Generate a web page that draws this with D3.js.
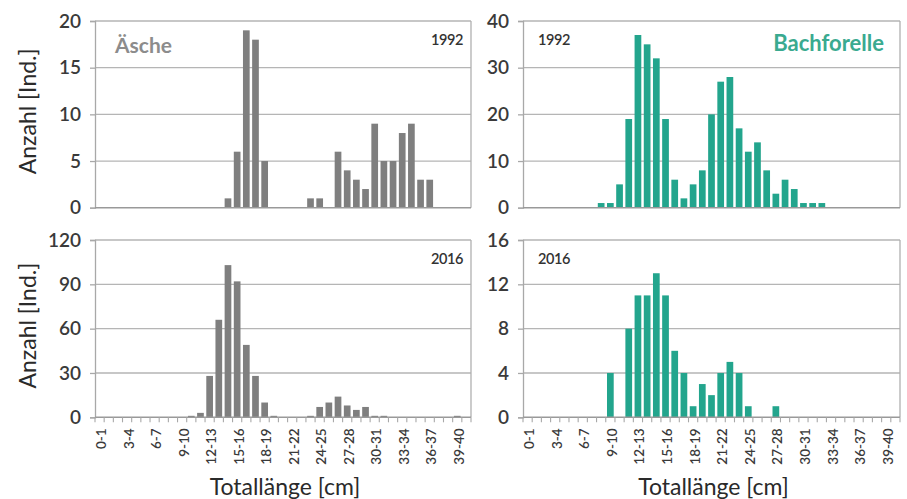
<!DOCTYPE html>
<html><head><meta charset="utf-8">
<script src="https://cdn.jsdelivr.net/npm/d3@7"></script>
<style>
body{margin:0;background:#fff}
svg{display:block}
text{font-family:Lato,"Open Sans",sans-serif}
</style>
</head><body>
<svg id="c" width="907" height="499"></svg>
<script>
const categories = ["0-1","1-2","2-3","3-4","4-5","5-6","6-7","7-8","8-9","9-10",
  "10-11","11-12","12-13","13-14","14-15","15-16","16-17","17-18","18-19","19-20",
  "20-21","21-22","22-23","23-24","24-25","25-26","26-27","27-28","28-29","29-30",
  "30-31","31-32","32-33","33-34","34-35","35-36","36-37","37-38","38-39","39-40"];
const tickLabels = ["0-1","3-4","6-7","9-10","12-13","15-16","18-19","21-22","24-25","27-28","30-31","33-34","36-37","39-40"];

const aesche1992 = [0,0,0,0,0,0,0,0,0,0, 0,0,0,0,1,6,19,18,5,0, 0,0,0,1,1,0,6,4,3,2, 9,5,5,8,9,3,3,0,0,0];
const bach1992   = [0,0,0,0,0,0,0,0,1,1, 5,19,37,35,32,19,6,2,5,8, 20,27,28,17,12,14,8,3,6,4, 1,1,1,0,0,0,0,0,0,0];
const aesche2016 = [0,0,0,0,0,0,0,0,0,0, 1,3,28,66,103,92,49,28,10,1, 0,0,0,1,7,10,14,8,5,7, 1,1,0,0,0,0,0,0,0,1];
const bach2016   = [0,0,0,0,0,0,0,0,0,4, 0,8,11,11,13,11,6,4,1,3, 2,4,5,4,1,0,0,1,0,0, 0,0,0,0,0,0,0,0,0,0];

const ticksAesche1992 = [0,5,10,15,20];
const ticksBach1992 = [0,10,20,30,40];
const ticksAesche2016 = [0,30,60,90,120];
const ticksBach2016 = [0,4,8,12,16];

const species = ["Äsche","Bachforelle"];
const years = ["1992","2016"];

const GREY = "#7f7f7f", TEAL = "#23a58d";

const panels = [
  {x:95, y:21, w:376, h:186.7, data:aesche1992, ticks:ticksAesche1992, color:GREY, year:years[0], yearRight:true, xlab:false, ylab:true},
  {x:523,y:21, w:377, h:186.7, data:bach1992, ticks:ticksBach1992, color:TEAL, year:years[0], yearRight:false, xlab:false, ylab:false},
  {x:95, y:240,w:376, h:177.3, data:aesche2016, ticks:ticksAesche2016, color:GREY, year:years[1], yearRight:true, xlab:true, ylab:true},
  {x:523,y:240,w:377, h:177.3, data:bach2016, ticks:ticksBach2016, color:TEAL, year:years[1], yearRight:false, xlab:true, ylab:false}
];

const svg = d3.select("#c");

panels.forEach(p => {
  const g = svg.append("g").attr("transform", `translate(${p.x},${p.y})`);
  const y = d3.scaleLinear().domain([0, d3.max(p.ticks)]).range([p.h, 0]);
  const x = d3.scaleBand().domain(categories).range([0, p.w * 40 / 41]).paddingInner(0.27).paddingOuter(0.135);

  g.selectAll("line.grid").data(p.ticks.filter(t => t > 0)).join("line")
    .attr("x1", 0).attr("x2", p.w)
    .attr("y1", d => y(d)).attr("y2", d => y(d))
    .attr("stroke", "#b5b5b5").attr("stroke-width", 1.3);
  g.append("line").attr("x1", p.w).attr("x2", p.w).attr("y1", 0).attr("y2", p.h)
    .attr("stroke", "#b0b0b0").attr("stroke-width", 1.3);

  g.selectAll("rect.bar").data(categories.map((c, i) => ({c, v: p.data[i]})).filter(d => d.v > 0)).join("rect")
    .attr("x", d => x(d.c)).attr("width", x.bandwidth())
    .attr("y", d => y(d.v)).attr("height", d => p.h - y(d.v))
    .attr("fill", p.color);

  const ya = g.append("g").call(d3.axisLeft(y).tickValues(p.ticks).tickSize(5).tickPadding(9));
  ya.select(".domain").attr("stroke", "#a8a8a8").attr("stroke-width", 1.3);
  ya.selectAll(".tick line").attr("stroke", "#a8a8a8").attr("stroke-width", 1.3);
  ya.selectAll(".tick text").attr("font-size", 19).attr("fill", "#3a3a3a")
    .style("font-family", "Lato, sans-serif").attr("font-weight", 600);

  g.append("line").attr("x1", 0).attr("x2", p.w).attr("y1", p.h).attr("y2", p.h)
    .attr("stroke", "#999").attr("stroke-width", 1.4);

  if (p.xlab) {
    const step = x.step();
    g.selectAll("line.xt").data(d3.range(0, 42)).join("line")
      .attr("x1", i => Math.min(i * step, p.w)).attr("x2", i => Math.min(i * step, p.w))
      .attr("y1", p.h).attr("y2", p.h + 5)
      .attr("stroke", "#a8a8a8").attr("stroke-width", 1.1);
    g.selectAll("text.xl").data(tickLabels).join("text")
      .attr("transform", d => `translate(${x(d) + x.bandwidth() / 2 + 1.5},${p.h + 11}) rotate(-90)`)
      .attr("text-anchor", "end").attr("dominant-baseline", "central")
      .attr("font-size", 13.5).attr("font-weight", 600).attr("fill", "#3a3a3a")
      .text(d => d);
    svg.append("text").attr("x", p.x + p.w / 2 + 2).attr("y", 495)
      .attr("text-anchor", "middle").attr("font-size", 23).attr("fill", "#2a2a2a")
      .text("Totallänge [cm]");
  }
  if (p.ylab) {
    svg.append("text").attr("transform", `translate(27,${p.y + p.h / 2 - 3}) rotate(-90)`)
      .attr("text-anchor", "middle").attr("dominant-baseline", "central")
      .attr("font-size", 23).attr("fill", "#2a2a2a").text("Anzahl [Ind.]");
  }
  g.append("text").attr("x", p.yearRight ? p.w - 8 : 15).attr("y", 24)
    .attr("text-anchor", p.yearRight ? "end" : "start")
    .attr("font-size", 14.5).attr("font-weight", 600).attr("fill", "#333")
    .attr("letter-spacing", -0.4).text(p.year);
});

svg.append("text").attr("x", 115).attr("y", 53).attr("font-size", 21).attr("font-weight", 700)
  .attr("fill", "#8c8c8c").text(species[0]);
svg.append("text").attr("x", 884).attr("y", 51).attr("text-anchor", "end").attr("font-size", 22)
  .attr("font-weight", 700).attr("fill", "#3aaa90").text(species[1]);
</script>
</body></html>
